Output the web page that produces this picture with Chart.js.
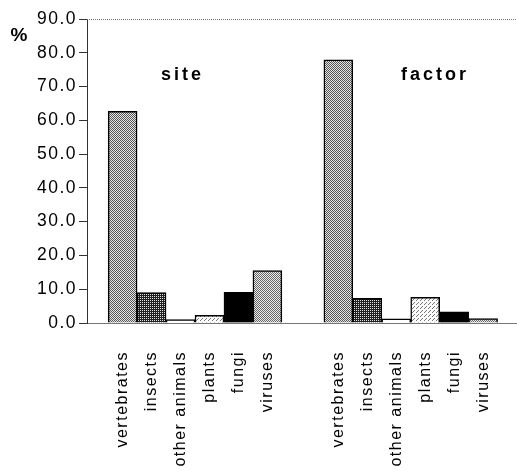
<!DOCTYPE html>
<html>
<head>
<meta charset="utf-8">
<script src="https://cdn.jsdelivr.net/npm/chart.js@4"></script>
<style>
  html, body { margin: 0; padding: 0; background: #fff; }
  #wrap { width: 517px; height: 470px; }
</style>
</head>
<body>
<div id="wrap"><canvas id="myChart"></canvas></div>
<script>
  const categories = ["vertebrates", "insects", "other animals", "plants", "fungi", "viruses"];
  const groups = ["site", "factor"];
  const siteValues = [62.7, 9.0, 1.0, 2.3, 9.1, 15.5];
  const factorValues = [77.9, 7.3, 1.2, 7.6, 3.3, 1.3];
  const yTicks = [0, 10, 20, 30, 40, 50, 60, 70, 80, 90];

  // slot positions on the x scale (one unit = one bar)
  const siteStart = 1.23, factorStart = 8.68, xMax = 14.85;

  function pattern(size, bg, fg, cells) {
    const c = document.createElement('canvas');
    c.width = size; c.height = size;
    const g = c.getContext('2d');
    g.fillStyle = bg; g.fillRect(0, 0, size, size);
    g.fillStyle = fg;
    cells.forEach(p => g.fillRect(p[0], p[1], 1, 1));
    return g.createPattern(c, 'repeat');
  }

  const fills = [
    pattern(2, '#e6e6e6', '#555', [[0, 0], [1, 1]]),
    pattern(2, '#222', '#e0e0e0', [[0, 0]]),
    '#ffffff',
    pattern(4, '#fafafa', '#777', [[0, 0], [2, 2], [1, 3]]),
    '#000000',
    pattern(2, '#ececec', '#666', [[0, 0], [1, 1]])
  ];

  const points = [];
  const colors = [];
  const tickPos = [];
  const tickText = [];
  siteValues.forEach((v, i) => {
    points.push({ x: siteStart + i, y: v });
    colors.push(fills[i]);
    tickPos.push(siteStart + i);
    tickText.push(categories[i]);
  });
  factorValues.forEach((v, i) => {
    points.push({ x: factorStart + i, y: v });
    colors.push(fills[i]);
    tickPos.push(factorStart + i);
    tickText.push(categories[i]);
  });

  const decor = {
    id: 'decor',
    beforeDraw(chart) {
      chart.ctx.letterSpacing = '1.5px';
    },
    afterDraw(chart) {
      const ctx = chart.ctx;
      const a = chart.chartArea;
      const x = chart.scales.x;
      ctx.save();
      ctx.strokeStyle = '#777';
      ctx.lineWidth = 1;
      ctx.setLineDash([1, 1]);
      ctx.beginPath();
      ctx.moveTo(a.left, a.top + 0.5);
      ctx.lineTo(chart.width, a.top + 0.5);
      ctx.stroke();
      ctx.setLineDash([]);
      ctx.fillStyle = '#000';
      ctx.textBaseline = 'middle';
      ctx.textAlign = 'center';
      ctx.letterSpacing = '0px';
      ctx.font = 'bold 19px "Liberation Sans", Arial, sans-serif';
      ctx.fillText('%', 19, 36);
      ctx.font = 'bold 18px "Liberation Sans", Arial, sans-serif';
      ctx.letterSpacing = '3px';
      ctx.fillText(groups[0], x.getPixelForValue(siteStart + 2.0) + 2, 75);
      ctx.fillText(groups[1], x.getPixelForValue(factorStart + 3.27) + 2, 75);
      ctx.restore();
    }
  };

  new Chart(document.getElementById('myChart'), {
    type: 'bar',
    data: {
      datasets: [{
        data: points,
        backgroundColor: colors,
        borderColor: '#000',
        borderWidth: 1.5,
        barPercentage: 1,
        categoryPercentage: 1
      }]
    },
    options: {
      responsive: true,
      maintainAspectRatio: false,
      animation: false,
      layout: { padding: { top: 19, right: 0, left: 0, bottom: 0 } },
      plugins: { legend: { display: false }, tooltip: { enabled: false } },
      scales: {
        x: {
          type: 'linear',
          offset: false,
          min: 0,
          max: xMax,
          grid: { display: false, drawTicks: false },
          border: { color: '#777', dash: [1, 1], width: 1 },
          afterBuildTicks: axis => { axis.ticks = tickPos.map(v => ({ value: v })); },
          afterFit: axis => {
            axis.height = 147;
            axis.paddingLeft = 0;
            axis.paddingRight = 0;
          },
          ticks: {
            autoSkip: false,
            minRotation: 90,
            maxRotation: 90,
            padding: 28,
            color: '#000',
            font: { family: '"Liberation Sans", Arial, sans-serif', size: 16 },
            callback: (v, i) => tickText[i]
          }
        },
        y: {
          min: 0,
          max: 90,
          afterBuildTicks: axis => { axis.ticks = yTicks.map(v => ({ value: v })); },
          afterFit: axis => {
            axis.width = 87;
            axis.paddingTop = 0;
            axis.paddingBottom = 0;
          },
          grid: { drawOnChartArea: false, tickLength: 8, color: '#333' },
          border: { color: '#333', width: 1 },
          ticks: {
            padding: 2,
            color: '#000',
            font: { family: '"Liberation Sans", Arial, sans-serif', size: 17.5 },
            callback: v => v.toFixed(1)
          }
        }
      }
    },
    plugins: [decor]
  });
</script>
</body>
</html>
